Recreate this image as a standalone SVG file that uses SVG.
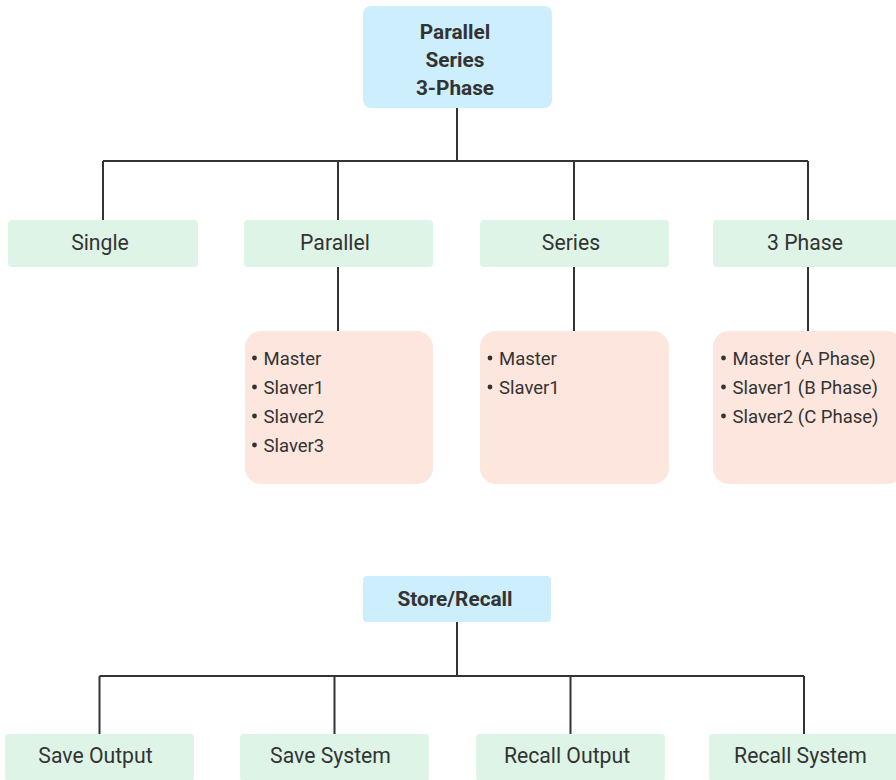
<svg xmlns="http://www.w3.org/2000/svg" width="896" height="780" viewBox="0 0 896 780">
<style>
.root{fill:#cdeefd}
.cat{fill:#ddf4e7}
.list{fill:#fde6dd}
.conn{stroke:#333;stroke-width:2;fill:none}
.dot{fill:#333}
text{font-family:Roboto,"Liberation Sans",sans-serif;fill:#333}
.b{font-weight:bold;font-size:20.8px;text-anchor:middle}
.c{font-size:21.2px;text-anchor:middle}
.l{font-size:18.5px}
</style>
<rect width="896" height="780" fill="#fff"/>
<g id="connectors">
<path class="conn" d="M457 108V161M103 161H808M103 161V220M338 161V220M574 161V220M808 161V220"/>
<path class="conn" d="M338 267V331M574 267V331M808 267V331"/>
<path class="conn" d="M457 622V676M99.5 676H804M99.5 676V734M334.5 676V734M570.5 676V734M804 676V734"/>
</g>
<g id="n-root">
<rect class="root" x="363" y="6" width="189" height="102" rx="8"/>
<text class="b" x="455" y="39">Parallel</text>
<text class="b" x="455" y="67">Series</text>
<text class="b" x="455" y="95">3-Phase</text>
</g>
<g id="n-single"><rect class="cat" x="8" y="220" width="190" height="47" rx="4"/><text class="c" x="100" y="250">Single</text></g>
<g id="n-parallel"><rect class="cat" x="244" y="220" width="189" height="47" rx="4"/><text class="c" x="335" y="250">Parallel</text></g>
<g id="n-series"><rect class="cat" x="480" y="220" width="189" height="47" rx="4"/><text class="c" x="571" y="250">Series</text></g>
<g id="n-3phase"><rect class="cat" x="713" y="220" width="190" height="47" rx="4"/><text class="c" x="805" y="250">3 Phase</text></g>
<g id="n-parallel-list">
<rect class="list" x="245" y="331" width="188" height="153" rx="16"/>
<circle class="dot" cx="254.5" cy="358" r="2.4"/><text class="l" x="263.5" y="365">Master</text>
<circle class="dot" cx="254.5" cy="387" r="2.4"/><text class="l" x="263.5" y="394">Slaver1</text>
<circle class="dot" cx="254.5" cy="416" r="2.4"/><text class="l" x="263.5" y="423">Slaver2</text>
<circle class="dot" cx="254.5" cy="445" r="2.4"/><text class="l" x="263.5" y="452">Slaver3</text>
</g>
<g id="n-series-list">
<rect class="list" x="480" y="331" width="189" height="153" rx="16"/>
<circle class="dot" cx="490" cy="358" r="2.4"/><text class="l" x="499" y="365">Master</text>
<circle class="dot" cx="490" cy="387" r="2.4"/><text class="l" x="499" y="394">Slaver1</text>
</g>
<g id="n-3phase-list">
<rect class="list" x="713" y="331" width="190" height="153" rx="16"/>
<circle class="dot" cx="723.5" cy="358" r="2.4"/><text class="l" x="732.5" y="365">Master (A Phase)</text>
<circle class="dot" cx="723.5" cy="387" r="2.4"/><text class="l" x="732.5" y="394">Slaver1 (B Phase)</text>
<circle class="dot" cx="723.5" cy="416" r="2.4"/><text class="l" x="732.5" y="423">Slaver2 (C Phase)</text>
</g>
<g id="n-store"><rect class="root" x="363" y="576" width="188" height="46" rx="4"/><text class="b" x="455" y="606">Store/Recall</text></g>
<g id="n-save-output"><rect class="cat" x="5" y="734" width="189" height="47" rx="4"/><text class="c" x="95.5" y="763">Save Output</text></g>
<g id="n-save-system"><rect class="cat" x="240" y="734" width="189" height="47" rx="4"/><text class="c" x="330.5" y="763">Save System</text></g>
<g id="n-recall-output"><rect class="cat" x="476" y="734" width="189" height="47" rx="4"/><text class="c" x="567" y="763">Recall Output</text></g>
<g id="n-recall-system"><rect class="cat" x="709" y="734" width="190" height="47" rx="4"/><text class="c" x="800.5" y="763">Recall System</text></g>
</svg>
